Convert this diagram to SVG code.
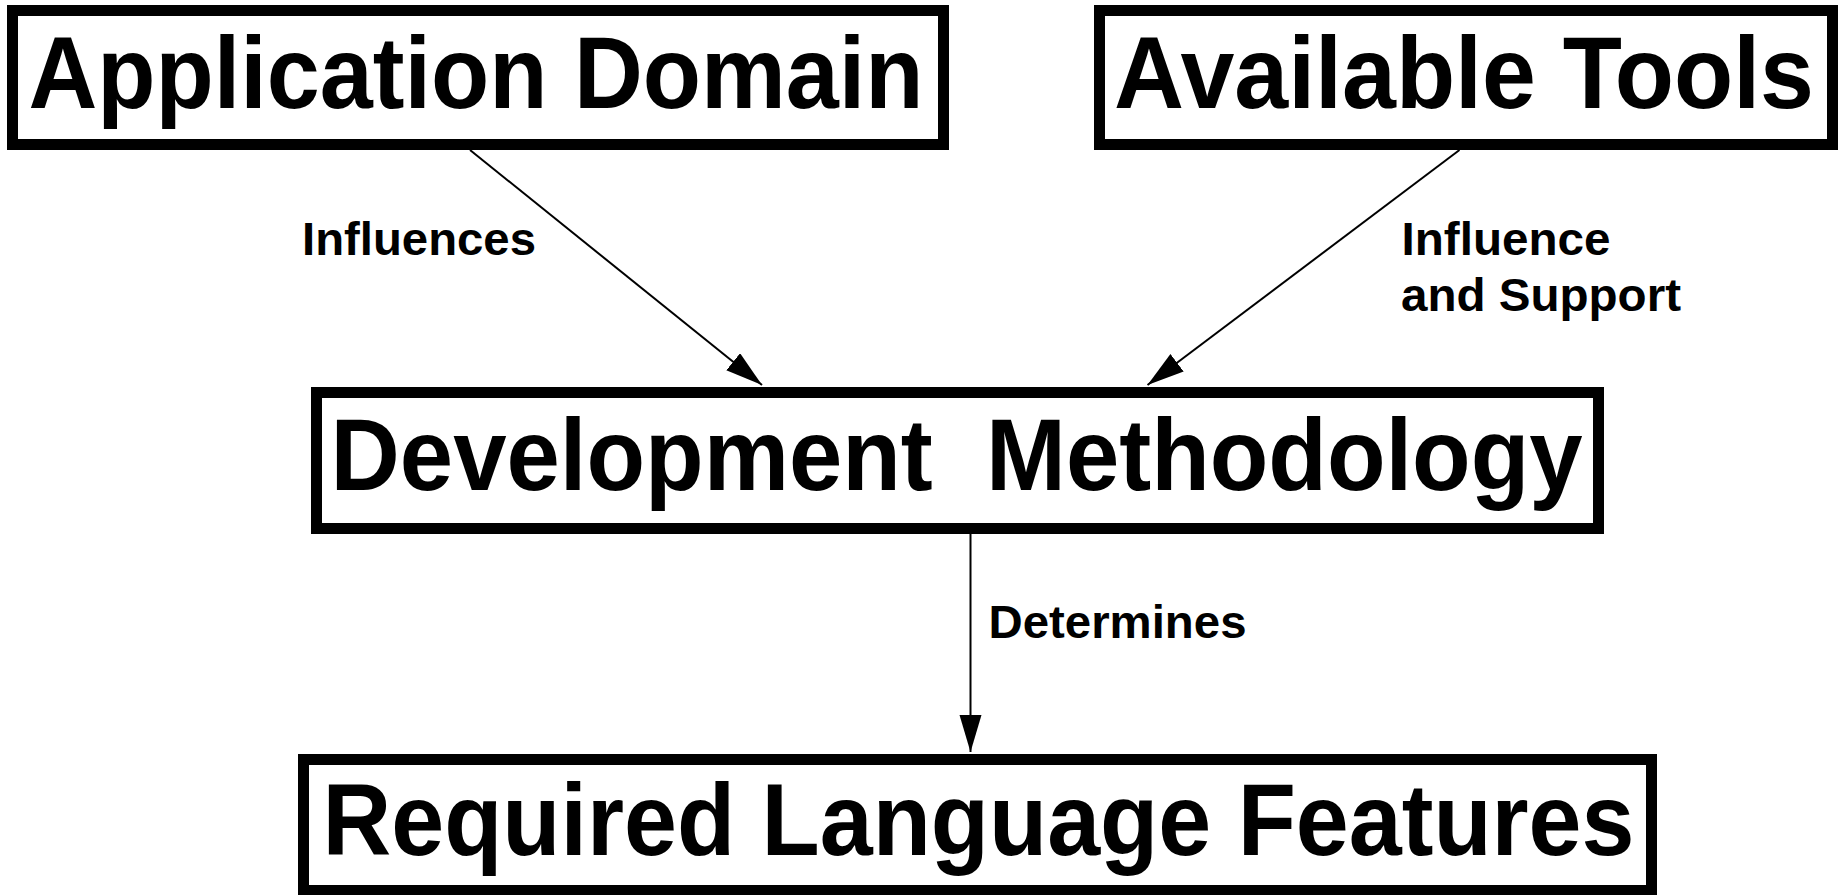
<svg xmlns="http://www.w3.org/2000/svg" width="1845" height="895" viewBox="0 0 1845 895">
<style>
.box{fill:#fff;stroke:#000;stroke-width:11}
.big{font-family:"Liberation Sans",Arial,sans-serif;font-weight:bold;font-size:102px;fill:#000}
.lbl{font-family:"Liberation Sans",Arial,sans-serif;font-weight:bold;font-size:46px;fill:#000}
.edge{stroke:#000;stroke-width:2;fill:none}
</style>
<defs>
<marker id="ah" markerUnits="userSpaceOnUse" markerWidth="40" markerHeight="24" refX="37" refY="11" orient="auto">
<path d="M0,0 L37,11 L0,22 Z" fill="#000"/>
</marker>
</defs>
<rect width="1845" height="895" fill="#fff"/>
<g id="connectors">
<line class="edge" x1="470" y1="150" x2="762" y2="385" marker-end="url(#ah)"/>
<line class="edge" x1="1459.5" y1="150" x2="1147.5" y2="385" marker-end="url(#ah)"/>
<line class="edge" x1="970.5" y1="534" x2="970.5" y2="752" marker-end="url(#ah)"/>
<text class="lbl" x="302" y="255" textLength="234" lengthAdjust="spacingAndGlyphs">Influences</text>
<text class="lbl" x="1401.5" y="255" textLength="209" lengthAdjust="spacingAndGlyphs">Influence</text>
<text class="lbl" x="1401" y="311" textLength="280" lengthAdjust="spacingAndGlyphs">and Support</text>
<text class="lbl" x="988.5" y="638" textLength="258" lengthAdjust="spacingAndGlyphs">Determines</text>
</g>
<g id="node-application-domain">
<rect class="box" x="12.5" y="10.5" width="931" height="134"/>
<text class="big" x="476" y="108" text-anchor="middle" textLength="895" lengthAdjust="spacingAndGlyphs">Application Domain</text>
</g>
<g id="node-available-tools">
<rect class="box" x="1099.5" y="10.5" width="733" height="134"/>
<text class="big" x="1464" y="108" text-anchor="middle" textLength="700" lengthAdjust="spacingAndGlyphs">Available Tools</text>
</g>
<g id="node-development-methodology">
<rect class="box" x="316.5" y="392.5" width="1282" height="136"/>
<text class="big" x="956.6" y="490" text-anchor="middle" textLength="1252" lengthAdjust="spacingAndGlyphs" xml:space="preserve">Development  Methodology</text>
</g>
<g id="node-required-language-features">
<rect class="box" x="303.5" y="759.5" width="1348" height="131"/>
<text class="big" x="978.5" y="855" text-anchor="middle" textLength="1312" lengthAdjust="spacingAndGlyphs">Required Language Features</text>
</g>
</svg>
